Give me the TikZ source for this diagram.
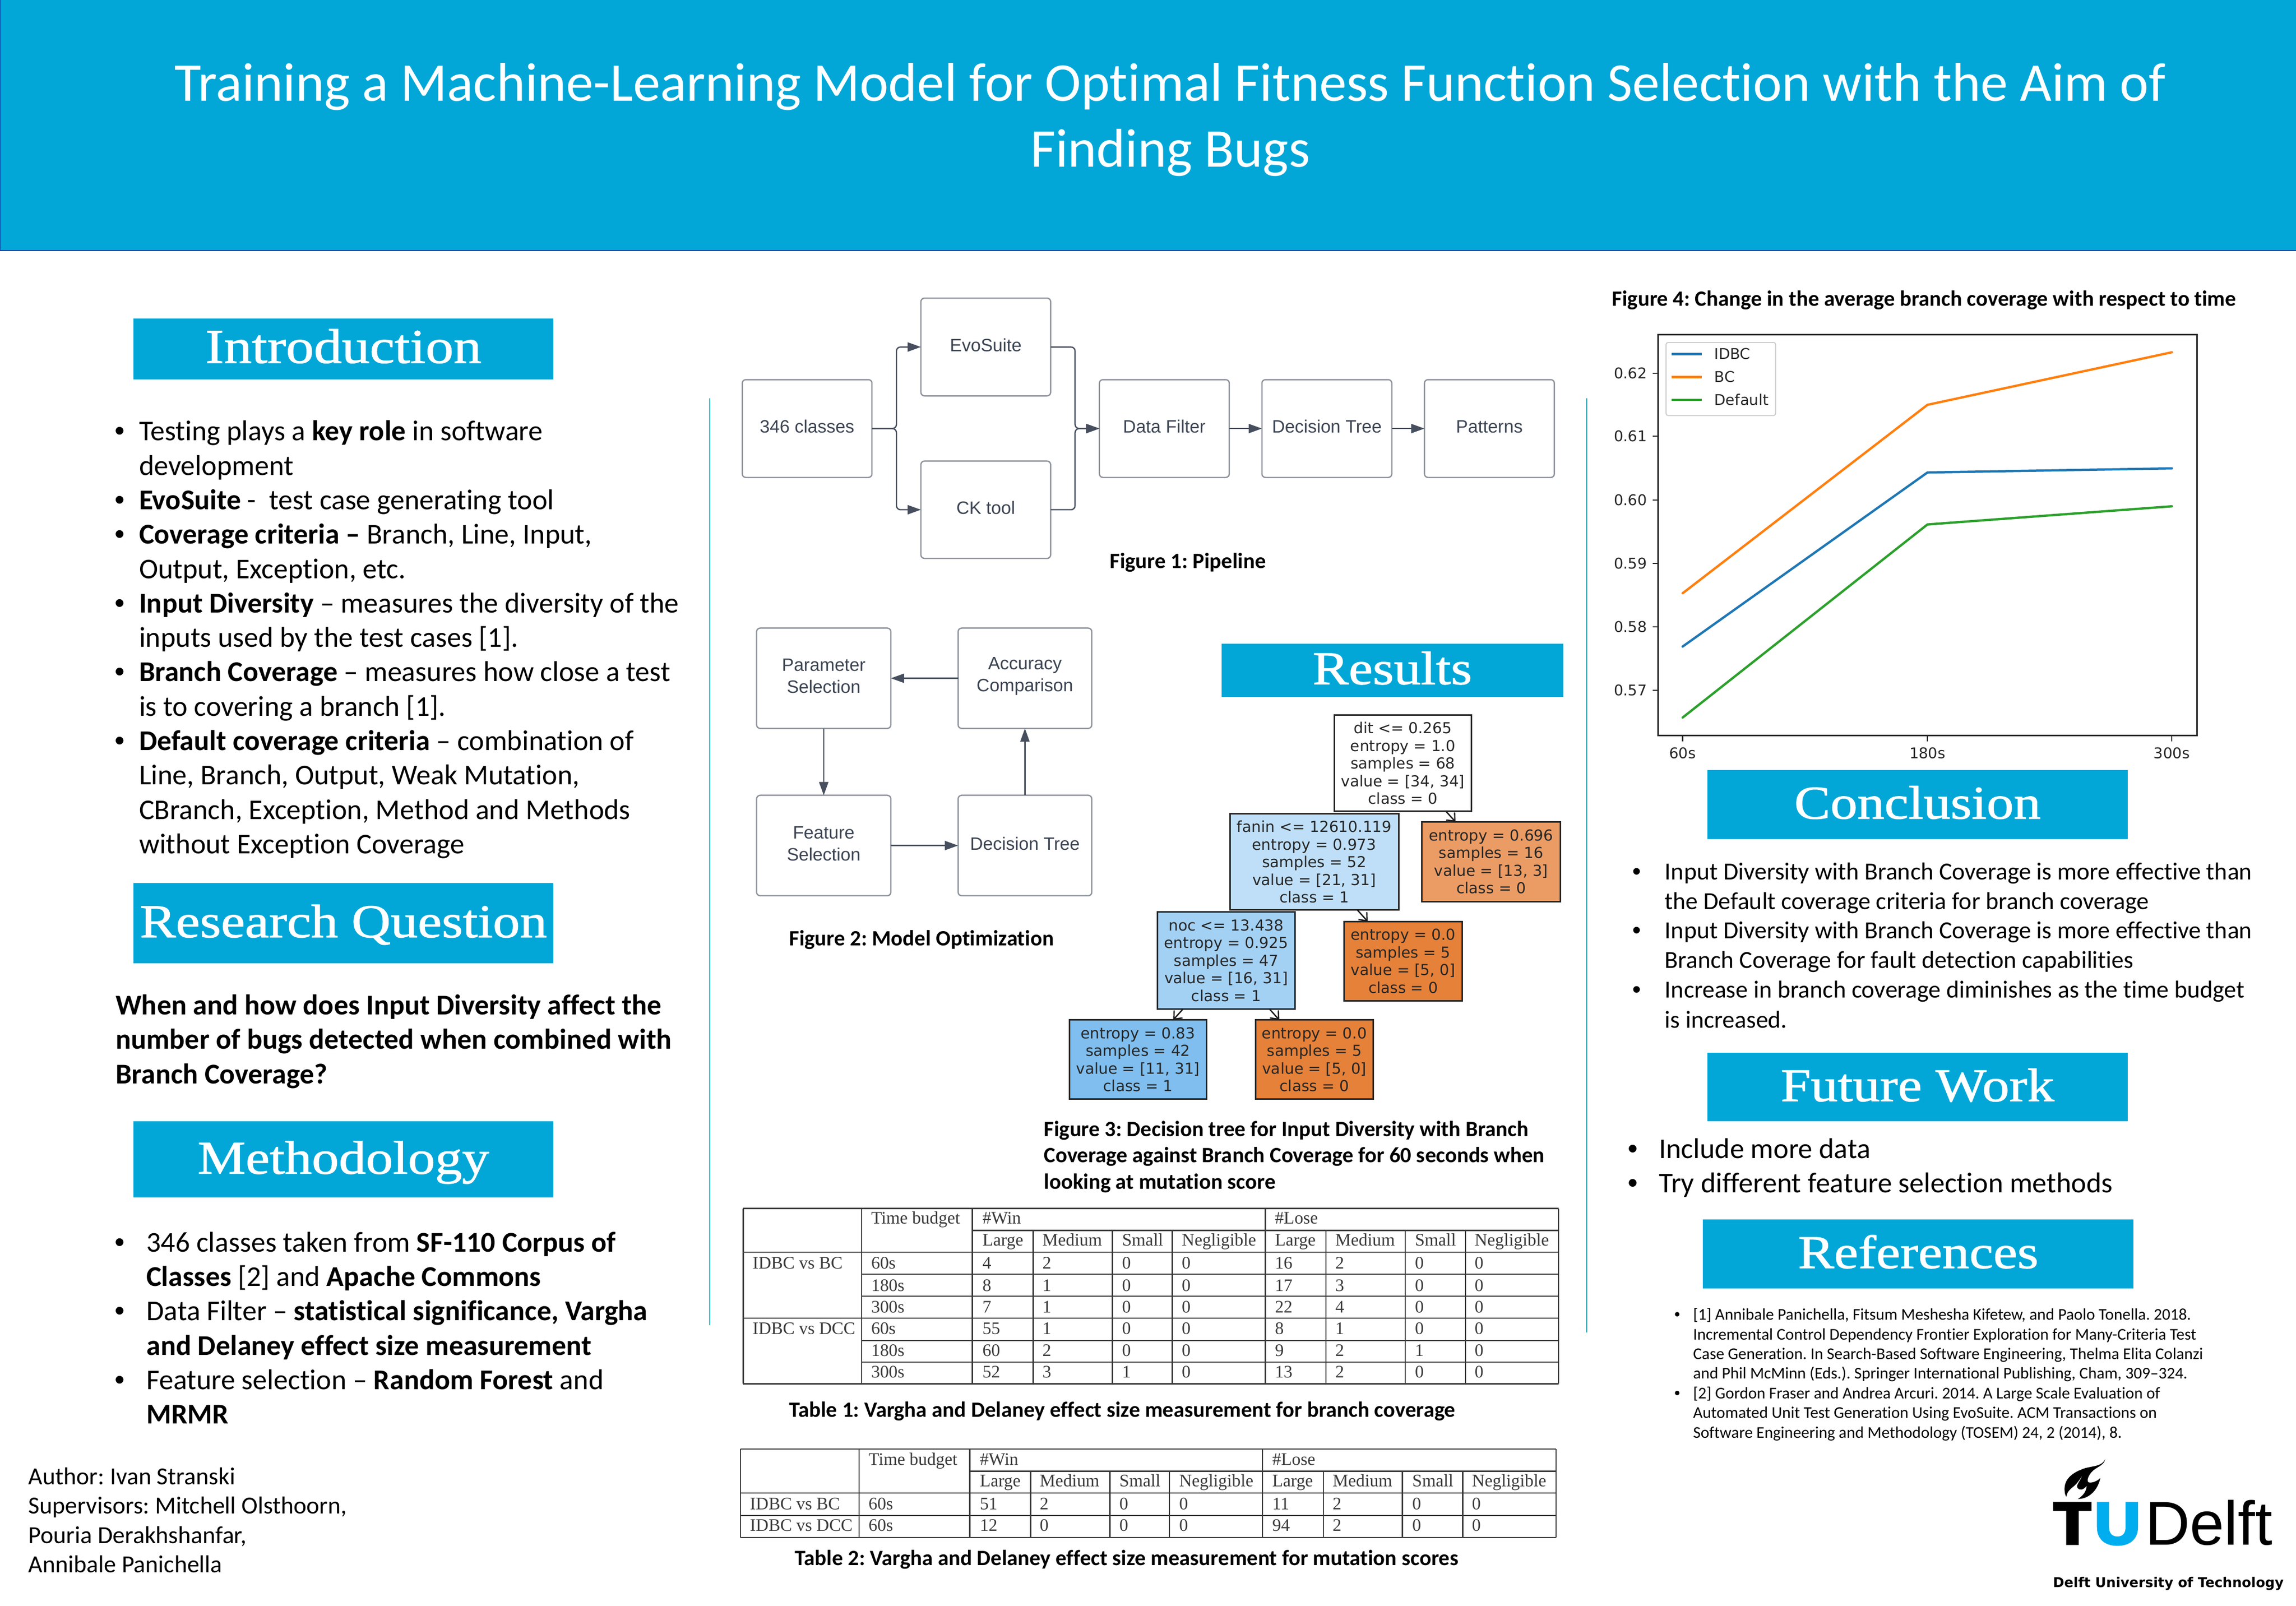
\documentclass[tikz,border=0pt]{standalone}
\usepackage{fontspec}
\setmainfont[Ligatures=NoCommon]{Carlito}
\newfontfamily\headfont[FakeStretch=1.15,FakeBold=1.2]{Liberation Serif}
\newfontfamily\flowfont{Liberation Sans}
\newfontfamily\dejafont{DejaVu Sans}
\newfontfamily\tabfont{Liberation Serif}
\usetikzlibrary{arrows.meta}
\definecolor{tubl}{HTML}{02A7D8}
\definecolor{flowtxt}{HTML}{3C4452}
\definecolor{flowbd}{HTML}{8D929B}
\definecolor{flowln}{HTML}{474F5F}
\definecolor{rule}{HTML}{2EA3AE}
\definecolor{tcell}{HTML}{3A3A3A}
\newcounter{tn}
\newcommand{\T}[4]{\stepcounter{tn}\node[#1] (t\arabic{tn}) at (#2,#3) {#4};}
\newcommand{\bx}[7]{\node[#6, minimum width={(#4-#2)*2.8635pt}, minimum height={(#5-#3)*2.8635pt}] (#1) at ({(#2+#4)/2},{(#3+#5)/2}) {#7};}
\newcommand{\fbx}[6]{\bx{#1}{#2}{#3}{#4}{#5}{flowbox,label={[flowlab,name=#1l]center:{#6}}}{}}
\newcommand{\hbx}[6]{\bx{#1}{#2}{#3}{#4}{#5}{headbox}{\smash{\raisebox{-27.5pt}{#6}}}}
\newcommand{\B}[4]{\T{#1,font=#2\flowfont}{#3}{#4}{•}}
\newcommand{\rw}[4]{\foreach \v [count=\i] in {#4} {\pgfmathsetmacro\xx{{671,711.9,766.3,807.1,870.7,911.9,966.3,1007.1}[\i-1]}\T{tb}{\xx+#1}{#2}{\v}}\T{tb}{595+#1}{#2}{#3}}
\newcommand{\fbody}{\fontsize{56}{66}\selectfont}
\newcommand{\fsmall}{\fontsize{47.8}{57}\selectfont}
\newcommand{\frefs}{\fontsize{32}{38}\selectfont}
\tikzset{
  x=2.8635pt,y=-2.8635pt,
  txt/.style={anchor=base west,inner sep=0pt,outer sep=0pt,text=black},
  bodytxt/.style={txt,font=\fbody},
  smalltxt/.style={txt,font=\fsmall},
  refstxt/.style={txt,font=\frefs},
  captxt/.style={txt,font=\fontsize{42.7}{50}\selectfont\bfseries},
  headbox/.style={fill=tubl,inner sep=0pt,outer sep=0pt,text=white,font=\fontsize{92}{100}\selectfont\headfont},
  flowbox/.style={draw=flowbd,line width=2.5pt,rounded corners=7pt,fill=white,inner sep=0pt,outer sep=0pt},
  flowlab/.style={yshift=4pt,inner sep=0pt,outer sep=0pt,text=flowtxt,align=center,font=\fontsize{35}{43}\selectfont\flowfont},
  conn/.style={draw=flowln,line width=2.5pt,rounded corners=8pt,-{Triangle[length=26pt,width=18pt]}},
  treebox/.style={draw=black!85,line width=3pt,inner sep=0pt,outer sep=0pt,align=center,text=black!85,font=\fontsize{29.6}{34.5}\selectfont\dejafont},
  treearr/.style={draw=black!90,line width=2.6pt,-{Straight Barb[length=13pt,width=22pt]}},
  tb/.style={txt,text=tcell,font=\fontsize{34.4}{40}\selectfont\tabfont},
  tline/.style={draw=tcell,line width=2.5pt},
  axl/.style={anchor=east,inner sep=0pt,outer sep=0pt,text=black!85,font=\fontsize{29}{34}\selectfont\dejafont},
  axb/.style={anchor=center,inner sep=0pt,outer sep=0pt,text=black!85,font=\fontsize{29}{34}\selectfont\dejafont},
  legt/.style={anchor=west,inner sep=0pt,outer sep=0pt,text=black!85,font=\fontsize{29}{34}\selectfont\dejafont},
  plotl/.style={line width=4.5pt,line cap=round,line join=round},
}
\begin{document}
\frenchspacing
\begin{tikzpicture}
\useasboundingbox (0,0) rectangle (1568,1096.9);
\fill[white] (0,0) rectangle (1568,1096.9);
% header
\fill[tubl] (0,0) rectangle (1568,171);
\draw[color=blue!40!tubl!70!black,line width=2pt] (0,0) -- (0,171) -- (1568,171);
\T{txt,anchor=base,text=white,font=\fontsize{106.7}{120}\selectfont}{799.3}{69}{Training a Machine-Learning Model for Optimal Fitness Function Selection with the Aim of}
\T{txt,anchor=base,text=white,font=\fontsize{106.7}{120}\selectfont}{799.3}{114}{Finding Bugs}
% vertical rules
\draw[rule,line width=2pt] (484.7,272) -- (484.7,905);
\draw[rule,line width=2pt] (1083.5,272) -- (1083.5,910);
% Section headings
\hbx{hIntro}{91}{217.5}{378}{259}{\fontsize{95}{100}\selectfont Introduction}
\hbx{hRQ}{91}{603}{378}{658}{Research Question}
\hbx{hMeth}{91}{766}{378}{818}{Methodology}
\hbx{hRes}{834.2}{439.5}{1067.5}{475.9}{Results}
\hbx{hConc}{1166}{526}{1453}{573}{Conclusion}
\hbx{hFut}{1166}{719}{1453}{766}{Future Work}
\hbx{hRef}{1163}{833}{1457}{880}{References}
% Introduction
\foreach \y in {301,348,371.5,418.5,465.5,512.5} {\B{txt}{\fbody}{78.5}{\y}}
\T{bodytxt}{95}{301}{Testing plays a \textbf{key role} in software}
\T{bodytxt}{95}{324.5}{development}
\T{bodytxt}{95}{348}{\textbf{EvoSuite} -~~test case generating tool}
\T{bodytxt}{95}{371.5}{\textbf{Coverage criteria –} Branch, Line, Input,}
\T{bodytxt}{95}{395}{Output, Exception, etc.}
\T{bodytxt}{95}{418.5}{\textbf{Input Diversity} – measures the diversity of the}
\T{bodytxt}{95}{442}{inputs used by the test cases [1].}
\T{bodytxt}{95}{465.5}{\textbf{Branch Coverage} – measures how close a test}
\T{bodytxt}{95}{489}{is to covering a branch [1].}
\T{bodytxt}{95}{512.5}{\textbf{Default coverage criteria} – combination of}
\T{bodytxt}{95}{536}{Line, Branch, Output, Weak Mutation,}
\T{bodytxt}{95}{559.5}{CBranch, Exception, Method and Methods}
\T{bodytxt}{95}{583}{without Exception Coverage}
% Research question
\T{bodytxt}{79}{693}{\textbf{When and how does Input Diversity affect the}}
\T{bodytxt}{79}{716.5}{\textbf{number of bugs detected when combined with}}
\T{bodytxt}{79}{740}{\textbf{Branch Coverage?}}
% Methodology
\foreach \y in {855,902,949} {\B{txt}{\fbody}{78.5}{\y}}
\T{bodytxt}{100}{855}{346 classes taken from \textbf{SF-110 Corpus of}}
\T{bodytxt}{100}{878.5}{\textbf{Classes} [2] and \textbf{Apache Commons}}
\T{bodytxt}{100}{902}{Data Filter – \textbf{statistical significance, Vargha}}
\T{bodytxt}{100}{925.5}{\textbf{and Delaney effect size measurement}}
\T{bodytxt}{100}{949}{Feature selection – \textbf{Random Forest} and}
\T{bodytxt}{100}{972.5}{\textbf{MRMR}}
% Authors
\T{smalltxt}{19.5}{1014}{Author: Ivan Stranski}
\T{smalltxt}{19.5}{1034}{Supervisors: Mitchell Olsthoorn,}
\T{smalltxt}{19.5}{1054}{Pouria Derakhshanfar,}
\T{smalltxt}{19.5}{1074}{Annibale Panichella}
% Figure 1: pipeline
\fbx{cl}{506.9}{259.3}{595.5}{326.1}{346 classes}
\fbx{evo}{628.9}{203.6}{717.5}{270.4}{EvoSuite}
\fbx{ck}{628.9}{314.9}{717.5}{381.4}{CK tool}
\fbx{df}{750.8}{259.3}{839.5}{326.1}{Data Filter}
\fbx{dt}{861.8}{259.3}{950.5}{326.1}{Decision Tree}
\fbx{pat}{972.8}{259.3}{1061.5}{326.1}{Patterns}
\draw[conn] (cl.east) -- ++(16.7,0) |- (evo.west);
\draw[conn] (cl.east) -- ++(16.7,0) |- (ck.west);
\draw[conn] (evo.east) -- ++(16.7,0) |- (df.west);
\draw[conn] (ck.east) -- ++(16.7,0) |- (df.west);
\draw[conn] (df) -- (dt);
\draw[conn] (dt) -- (pat);
\T{captxt}{758}{388}{Figure 1: Pipeline}
% Figure 2: optimisation
\fbx{ps}{516.7}{429}{608.4}{497.5}{Parameter\\Selection}
\fbx{ac}{654.3}{429}{745.6}{497.5}{Accuracy\\Comparison}
\fbx{fs}{516.7}{543.2}{608.4}{611.8}{Feature\\Selection}
\fbx{dt2}{654.3}{543.2}{745.6}{611.8}{Decision Tree}
\draw[conn] (ac) -- (ps);
\draw[conn] (ps) -- (fs);
\draw[conn] (fs) -- (dt2);
\draw[conn] (dt2) -- (ac);
\T{captxt}{539}{646}{Figure 2: Model Optimization}
% Figure 3: tree
\bx{n1}{911.4}{488.5}{1004.8}{554.2}{treebox,fill=white}{dit <= 0.265\\entropy = 1.0\\samples = 68\\value = [34, 34]\\class = 0}
\bx{n2}{839.9}{555.7}{955.2}{621.5}{treebox,fill={rgb,255:red,190;green,223;blue,247}}{fanin <= 12610.119\\entropy = 0.973\\samples = 52\\value = [21, 31]\\class = 1}
\bx{n3}{971.1}{561.4}{1065.6}{615.7}{treebox,fill={rgb,255:red,235;green,156;blue,100}}{entropy = 0.696\\samples = 16\\value = [13, 3]\\class = 0}
\bx{n4}{790.3}{622.8}{884.5}{689.3}{treebox,fill={rgb,255:red,163;green,209;blue,244}}{noc <= 13.438\\entropy = 0.925\\samples = 47\\value = [16, 31]\\class = 1}
\bx{n5}{918}{629.4}{998.5}{683.5}{treebox,fill={rgb,255:red,229;green,129;blue,57}}{entropy = 0.0\\samples = 5\\value = [5, 0]\\class = 0}
\bx{n6}{730.4}{696.6}{824}{750.6}{treebox,fill={rgb,255:red,127;green,190;blue,238}}{entropy = 0.83\\samples = 42\\value = [11, 31]\\class = 1}
\bx{n7}{857.4}{696.6}{937.9}{750.6}{treebox,fill={rgb,255:red,229;green,129;blue,57}}{entropy = 0.0\\samples = 5\\value = [5, 0]\\class = 0}
\draw[treearr] (n1) -- (n3);
\draw[treearr] (n2) -- (n5);
\draw[treearr] (n4) -- (n6);
\draw[treearr] (n4) -- (n7);
\T{captxt}{713}{776}{Figure 3: Decision tree for Input Diversity with Branch}
\T{captxt}{713}{794}{Coverage against Branch Coverage for 60 seconds when}
\T{captxt}{713}{812}{looking at mutation score}
% Table 1
\foreach \y in {825.4,855.3,900.2,945.1} {\draw[tline] (507.5,\y) -- (1064.4,\y);}
\draw[tline] (664.1,840.4) -- (1064.4,840.4);
\foreach \y in {870.3,885.3,915.6,930.4} {\draw[tline] (588.4,\y) -- (1064.4,\y);}
\foreach \x in {507.5,588.4,664.1,864.1,1064.4} {\draw[tline] (\x,825.4) -- (\x,945.1);}
\foreach \x in {705.6,759.7,800.5,905.6,959.6,1000.8} {\draw[tline] (\x,840.4) -- (\x,945.1);}
\T{tb}{595}{836}{Time budget}
\T{tb}{671}{836}{\#Win}
\T{tb}{870.7}{836}{\#Lose}
\rw{0}{851}{}{Large,Medium,Small,Negligible,Large,Medium,Small,Negligible}
\T{tb}{514}{866.6}{IDBC vs BC}
\T{tb}{514}{911.2}{IDBC vs DCC}
\rw{0}{866.6}{60s}{4,2,0,0,16,2,0,0}
\rw{0}{881.8}{180s}{8,1,0,0,17,3,0,0}
\rw{0}{896.6}{300s}{7,1,0,0,22,4,0,0}
\rw{0}{911.2}{60s}{55,1,0,0,8,1,0,0}
\rw{0}{926.3}{180s}{60,2,0,0,9,2,1,0}
\rw{0}{941}{300s}{52,3,1,0,13,2,0,0}
\T{captxt}{539}{968}{Table 1: Vargha and Delaney effect size measurement for branch coverage}
% Table 2
\foreach \y in {989.7,1019.8,1035,1050.1} {\draw[tline] (505.7,\y) -- (1062.6,\y);}
\draw[tline] (662.3,1004.8) -- (1062.6,1004.8);
\foreach \x in {505.7,586.6,662.3,862.3,1062.6} {\draw[tline] (\x,989.7) -- (\x,1050.1);}
\foreach \x in {703.8,757.9,798.7,903.8,957.8,999} {\draw[tline] (\x,1004.8) -- (\x,1050.1);}
\T{tb}{593.2}{1000.8}{Time budget}
\T{tb}{669.2}{1000.8}{\#Win}
\T{tb}{868.9}{1000.8}{\#Lose}
\rw{-1.8}{1015.4}{}{Large,Medium,Small,Negligible,Large,Medium,Small,Negligible}
\T{tb}{512.2}{1031.1}{IDBC vs BC}
\T{tb}{512.2}{1045.7}{IDBC vs DCC}
\rw{-1.8}{1031.1}{60s}{51,2,0,0,11,2,0,0}
\rw{-1.8}{1045.7}{60s}{12,0,0,0,94,2,0,0}
\T{captxt}{543}{1069}{Table 2: Vargha and Delaney effect size measurement for mutation scores}
% Figure 4
\T{captxt}{1101}{209}{Figure 4: Change in the average branch coverage with respect to time}
\draw[black!85,line width=3pt] (1132.3,228.6) rectangle (1500.3,502.5);
\foreach \y/\l in {254.9/0.62,298/0.61,341.5/0.60,384.9/0.59,428.1/0.58,471.5/0.57} {
  \draw[black!85,line width=2.2pt] (1128.6,\y) -- (1132.3,\y);
  \T{axl}{1124.7}{\y}{\l}
}
\foreach \x/\l in {1149.1/60s,1316.3/180s,1483.2/300s} {
  \draw[black!85,line width=2.2pt] (\x,502.5) -- (\x,506.2);
  \T{axb}{\x}{514.3}{\l}
}
\draw[plotl,color={rgb,255:red,31;green,119;blue,180}] (1149.1,441.6) -- (1316.3,322.7) -- (1483.2,319.9);
\draw[plotl,color={rgb,255:red,255;green,127;blue,14}] (1149.1,405.2) -- (1316.3,276.5) -- (1483.2,240.6);
\draw[plotl,color={rgb,255:red,44;green,160;blue,44}] (1149.1,490.1) -- (1316.3,358.2) -- (1483.2,345.8);
\draw[black!20,fill=white,line width=2pt,rounded corners=4pt] (1137.8,233.9) rectangle (1212.6,283.8);
\draw[plotl,line cap=butt,color={rgb,255:red,31;green,119;blue,180}] (1141.5,241.8) -- (1162.2,241.8);
\draw[plotl,line cap=butt,color={rgb,255:red,255;green,127;blue,14}] (1141.5,257.5) -- (1162.2,257.5);
\draw[plotl,line cap=butt,color={rgb,255:red,44;green,160;blue,44}] (1141.5,273.1) -- (1162.2,273.1);
\T{legt}{1170.8}{241.8}{IDBC}
\T{legt}{1170.8}{257.5}{BC}
\T{legt}{1170.8}{273.1}{Default}
% Conclusion
\foreach \y in {601,641,681.5} {\B{txt}{\fsmall}{1115}{\y}}
\T{smalltxt}{1137}{601}{Input Diversity with Branch Coverage is more effective than}
\T{smalltxt}{1137}{621}{the Default coverage criteria for branch coverage}
\T{smalltxt}{1137}{641}{Input Diversity with Branch Coverage is more effective than}
\T{smalltxt}{1137}{661.3}{Branch Coverage for fault detection capabilities}
\T{smalltxt}{1137}{681.5}{Increase in branch coverage diminishes as the time budget}
\T{smalltxt}{1137}{702}{is increased.}
% Future work
\foreach \y in {791,814.5} {\B{txt}{\fbody}{1111.6}{\y}}
\T{bodytxt}{1133}{791}{Include more data}
\T{bodytxt}{1133}{814.5}{Try different feature selection methods}
% References
\foreach \y in {901.5,955.2} {\B{txt}{\frefs}{1143.5}{\y}}
\T{refstxt}{1156.3}{901.5}{[1] Annibale Panichella, Fitsum Meshesha Kifetew, and Paolo Tonella. 2018.}
\T{refstxt}{1156.3}{915}{Incremental Control Dependency Frontier Exploration for Many-Criteria Test}
\T{refstxt}{1156.3}{928.5}{Case Generation. In Search-Based Software Engineering, Thelma Elita Colanzi}
\T{refstxt}{1156.3}{941.7}{and Phil McMinn (Eds.). Springer International Publishing, Cham, 309–324.}
\T{refstxt}{1156.3}{955.2}{[2] Gordon Fraser and Andrea Arcuri. 2014. A Large Scale Evaluation of}
\T{refstxt}{1156.3}{968.6}{Automated Unit Test Generation Using EvoSuite. ACM Transactions on}
\T{refstxt}{1156.3}{982}{Software Engineering and Methodology (TOSEM) 24, 2 (2014), 8.}
% Logo
\begin{scope}[shift={(1389.9,988.3)},x=0.33334pt,y=-0.33334pt]
\fill[black] (410,72) .. controls (390,115) and (340,110) .. (290,125) .. controls (215,150) and (170,190) .. (172,250) .. controls (172,270) and (177,285) .. (183,292) .. controls (185,250) and (230,235) .. (250,205) .. controls (262,190) and (270,178) .. (275,165) .. controls (270,195) and (235,225) .. (248,240) .. controls (258,255) and (280,255) .. (302,228) .. controls (300,265) and (275,290) .. (250,305) .. controls (310,305) and (365,260) .. (382,182) .. controls (360,205) and (320,215) .. (310,205) .. controls (300,190) and (320,150) .. (350,130) .. controls (380,110) and (405,100) .. (410,72) -- cycle;
\fill[black] (105,322) -- (330,322) -- (330,375) -- (255,375) -- (255,575) -- (182,575) -- (182,375) -- (105,375) -- cycle;
\fill[color={rgb,255:red,0;green,174;blue,239}] (362,322) -- (433,322) -- (433,470) .. controls (433,505) and (450,525) .. (482,525) .. controls (514,525) and (530,505) .. (530,470) -- (530,322) -- (603,322) -- (603,470) .. controls (603,545) and (550,580) .. (482,580) .. controls (414,580) and (362,545) .. (362,470) -- cycle;
\end{scope}
\T{txt,font=\fontsize{121}{130}\selectfont\flowfont}{1465}{1055.2}{Delft}
\T{txt,font=\fontsize{26.5}{34}\selectfont\dejafont\bfseries}{1402.1}{1084.3}{Delft University of Technology}
\end{tikzpicture}
\end{document}
